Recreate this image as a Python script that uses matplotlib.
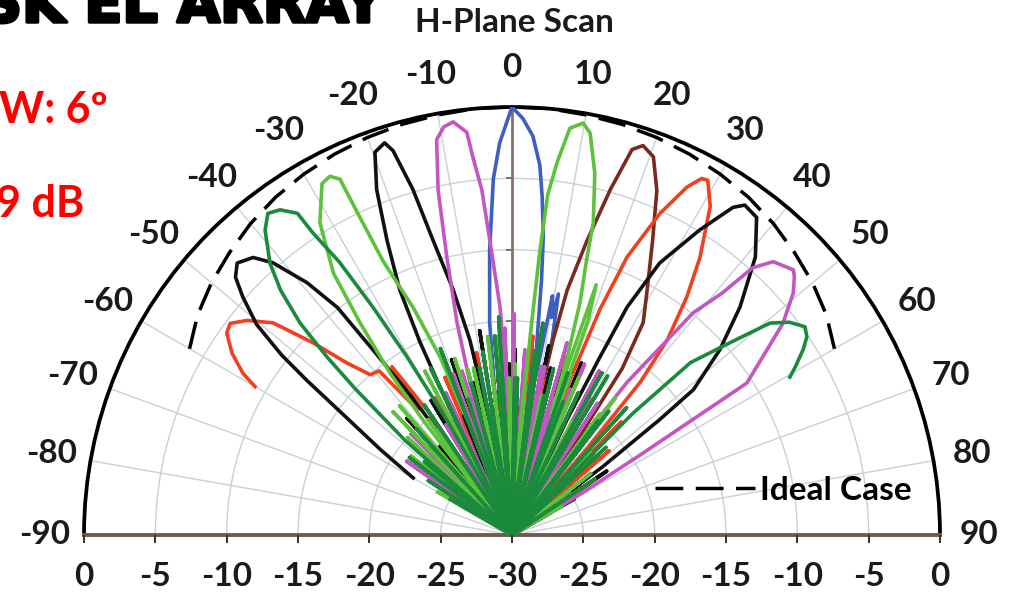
import numpy as np
import matplotlib
matplotlib.use("Agg")
import matplotlib.pyplot as plt
import matplotlib.patheffects as pe

# measured H-plane patterns, one list pair per scan angle (deg, dB)
scan_p00_deg = [-60, -55, -50, -45, -40, -36, -32, -28, -24, -20, -17, -14, -11.5, -9, -7.5,
                -6, -4.5, -3, -1.8, 0, 1.5, 3, 4.3, 5.1, 6, 6.6, 7.5, 8.5, 9.6, 10.3,
                10.9, 11.6, 13, 16, 19, 23, 27, 32, 37, 43, 50, 55, 60]
scan_p00_db = [-30, -26, -30, -24, -30, -23, -30, -22, -30, -20, -30, -26, -19, -30, -22,
               -15, -10, -5, -2.5, 0, -0.8, -2, -4, -6.2, -9, -12, -17, -19, -13, -14.5,
               -12.8, -16, -30, -20, -30, -22, -30, -24, -30, -26, -30, -27, -30]

scan_m08_deg = [-60, -58, -55, -50, -45, -41, -37, -34, -31, -28, -25, -22, -20, -17.5, -15.5,
                -14.5, -13.2, -12.1, -10.8, -9.5, -8.1, -6.4, -5.9, -5, -4.3, -3, -2, -1, 0.5, 2,
                5, 8, 11, 14, 17, 20, 23, 26, 30, 34, 38, 42, 46, 50, 55, 60]
scan_m08_db = [-27, -30, -21, -30, -20, -30, -22, -30, -21, -30, -19, -30, -18, -30, -19,
               -14.6, -10, -5.3, -1.8, -1, -0.75, -1.6, -3.4, -5.7, -9.3, -14, -20, -30, -14.5, -30,
               -20, -30, -18, -30, -20, -30, -17, -30, -19, -30, -21, -30, -23, -30, -25, -30]

scan_p09_deg = [-60, -56, -52, -48, -44, -40, -36, -32, -28, -25, -21, -18, -15, -12, -9,
                -6, -4, -1, 1, 3, 4.5, 5.3, 5.6, 6.0, 6.9, 8.1, 9.8, 11, 12.9, 14.6,
                15.1, 16.3, 17.3, 17.9, 18.6, 19.5, 20.5, 23, 26, 29, 33, 36, 40, 44, 48,
                52, 56, 60]
scan_p09_db = [-24, -30, -21, -30, -18, -30, -20, -30, -17, -30, -19, -30, -18, -30, -20,
               -30, -16, -30, -18, -30, -22, -15, -10, -6, -3.7, -1.2, -0.7, -1.3, -4, -7.4,
               -9.8, -13, -17, -21, -11.5, -14, -26, -18, -30, -20, -30, -19.5, -30, -22, -30,
               -23, -30, -26]

scan_m18_deg = [-60, -57, -54, -50, -46, -42, -39, -36, -33, -30, -27, -26.2, -25.5, -24.6, -23,
                -21.4, -19.7, -18, -17.2, -16, -15, -13.5, -12.2, -11.3, -10.5, -9, -7.5, -5, -2, 1,
                4, 7, 10, 13, 16, 20, 24, 28, 32, 36, 40, 44, 48, 53, 60]
scan_m18_db = [-30, -24, -30, -23, -30, -19, -30, -22, -30, -20, -30, -20, -15, -11.1, -7.6,
               -4, -1.5, -1.1, -1.8, -4.8, -8.6, -12.3, -16, -21, -30, -15.5, -30, -19, -30, -17,
               -30, -21, -30, -18, -30, -19, -30, -17, -30, -20, -30, -22, -30, -24, -30]

scan_p19_deg = [-60, -52, -45, -38, -32, -27, -22, -18, -14, -10, -6, -3, 0, 3, 6,
                8, 10, 11, 11.9, 12.7, 14.3, 15.9, 17.3, 18.6, 20.5, 22.8, 25.5, 28.9, 31.7, 33.5,
                34.5, 35.5, 38, 41, 44, 48, 52, 56, 60]
scan_p19_db = [-30, -27, -30, -26, -30, -25, -30, -24, -30, -23, -30, -22, -30, -21, -30,
               -19, -30, -21, -16, -12.4, -8.7, -4.8, -1.7, -1.2, -1.7, -3.8, -7.1, -10.4, -12.5, -16,
               -22, -30, -22, -30, -24, -30, -25, -30, -27]

scan_m27_deg = [-60, -57, -53, -50, -47, -44, -41, -38.5, -37.8, -37, -35.6, -34.3, -31.6, -28.4, -26.9,
                -25.8, -25.6, -25.2, -23.5, -22, -21, -20, -18, -16, -13, -10, -7, -4, -1, 2,
                5, 8, 12, 16, 20, 24, 28, 32, 37, 42, 46, 52, 56, 60]
scan_m27_db = [-24, -30, -22, -30, -20, -30, -18, -30, -20, -15.8, -11.7, -7.8, -4.3, -2, -1.8,
               -2.3, -5.2, -8.8, -12.6, -16.5, -22, -30, -17, -30, -18, -30, -16, -30, -19, -30,
               -17, -30, -20, -30, -18, -30, -21, -30, -18, -30, -22, -30, -24, -30]

scan_p29_deg = [-60, -55, -50, -45, -40, -35, -31, -27, -23, -19, -15, -12, -9, -6, -3,
                0, 3, 6, 9, 12, 15, 17, 19, 20, 20.6, 21.3, 22.5, 24.7, 26.7, 28,
                28.9, 31.1, 34.1, 36.3, 38.5, 40, 41, 42, 44, 46, 49, 52, 56, 60]
scan_p29_db = [-30, -24, -30, -22, -30, -20, -30, -21, -30, -19, -30, -17, -30, -20, -30,
               -18, -30, -16, -30, -19, -30, -17, -30, -24, -18, -13, -8.9, -5.2, -2.7, -1.7,
               -1.6, -3.1, -6.5, -9.3, -12.5, -16, -22, -30, -19, -30, -21, -30, -22, -27]

scan_m38_deg = [-60, -56, -53, -50, -48.5, -47, -46.1, -45, -43.4, -41.7, -39, -37.2, -35.5, -33.7, -33.4,
                -32.3, -31.4, -30.5, -29.5, -28.5, -26, -24, -21, -18, -15, -12, -9, -6, -3.5, -1,
                2, 5, 8.3, 11, 14, 17, 21, 25, 29, 33, 38, 43, 47, 52, 56, 60]
scan_m38_db = [-25, -30, -21, -30, -20, -15, -12, -9, -6.4, -4.5, -2.5, -1.7, -2, -2.9, -4.6,
               -7.4, -11.3, -15.5, -21, -30, -17, -30, -16, -30, -19, -30, -17, -30, -14.7, -30,
               -19, -30, -15, -30, -18, -30, -20, -30, -17, -30, -19, -30, -21, -30, -23, -30]

scan_p40_deg = [-60, -54, -49, -44, -39, -34, -30, -26, -22, -18, -14, -10, -7, -4, -1,
                2, 5, 8, 11, 14, 17, 20, 22, 24.5, 25.5, 26.3, 26.8, 28.5, 31.6, 34,
                35.2, 37.6, 41.2, 45, 48.3, 51.3, 52, 53, 54, 56, 58, 60]
scan_p40_db = [-26, -30, -23, -30, -22, -30, -20, -30, -21, -30, -19, -30, -20, -30, -18,
               -30, -19, -30, -16.5, -30, -18, -30, -17, -30, -21, -16.1, -12.1, -8.3, -4.9, -2.3,
               -1.7, -1.9, -4.1, -7.4, -10.5, -13.7, -16.9, -22, -30, -22, -30, -25]

scan_m48_deg = [-60, -57, -54.5, -53, -52, -50.5, -48.5, -47, -45.3, -43, -41.3, -39.1, -37.5, -36.9, -36,
                -35, -34, -31, -28, -25, -22, -19, -16, -13, -10, -7, -4, -1, 2, 6,
                10, 14, 18, 23, 28, 33, 38, 44, 50, 55, 60]
scan_m48_db = [-22, -19, -15.5, -12, -9.5, -6.8, -4.8, -3.5, -2.9, -3.4, -4.6, -7.2, -9.9, -13.8, -18,
               -24, -30, -19, -30, -20, -30, -17, -30, -21, -30, -18, -30, -20, -30, -22,
               -30, -19, -30, -21, -30, -23, -30, -24, -30, -26, -30]

scan_p50_deg = [-60, -58, -55, -50, -45, -40, -35, -30, -25, -21, -17, -13, -9, -5, -2,
                1, 4, 7, 10, 13, 16, 19, 22, 25, 28, 31, 33, 35, 36, 37,
                39.2, 41, 42, 43.7, 46.7, 47.6, 49.3, 52, 54, 57.1, 58, 59, 60]
scan_p50_db = [-26, -30, -21, -30, -22, -30, -21, -30, -20, -30, -18, -30, -19, -30, -15.5,
               -30, -17, -30, -18, -30, -16, -30, -19, -30, -17, -30, -19, -30, -22, -16.6,
               -9.9, -7.5, -4.8, -3.5, -2.9, -3.2, -4, -5.9, -7.9, -10.4, -19.2, -24, -27]

scan_m58_deg = [-60, -59, -57, -54.7, -53.1, -51, -48.4, -46, -43.8, -41.5, -39, -37, -35.5, -34, -32,
                -29, -26, -23, -20, -17, -14, -11, -8, -5, -2, 1, 4, 8, 12, 16,
                20, 25, 30, 36, 42, 48, 54, 60]
scan_m58_db = [-9.2, -8, -6.6, -5.5, -5.3, -6.1, -7.6, -10.6, -13.3, -15, -15.2, -19, -15.5, -20, -30,
               -19, -30, -18, -30, -20, -30, -17, -30, -19, -30, -21, -30, -19, -30, -22,
               -30, -20, -30, -23, -30, -24, -30, -27]

scan_p60_deg = [-60, -57, -54, -50, -46, -42, -38, -34, -30, -26, -22, -18, -14, -11, -8,
                -5, -2, 1, 4, 7, 10, 13, 16, 19, 22, 25, 28, 31, 34, 37,
                40, 42, 44, 44.8, 46, 48.6, 50.6, 52.5, 54.6, 56.1, 57.5, 59.3, 60.4]
scan_p60_db = [-30, -23, -30, -22, -30, -20, -30, -19, -30, -17, -30, -20, -30, -18, -30,
               -16, -30, -19, -30, -17, -30, -20, -30, -18, -30, -19, -30, -17, -30, -20,
               -30, -18, -30, -18, -12.6, -9.6, -6.6, -5.5, -4.8, -5.1, -5.8, -6.9, -7.6]

# ideal scan loss envelope
ideal_deg = [-60, -55, -50, -45, -40, -35, -30, -25, -20, -15, -10, -5, 0,
             5, 10, 15, 20, 25, 30, 35, 40, 45, 50, 55, 60]
ideal_db = [-3.9, -3.1, -2.5, -2.0, -1.5, -1.1, -0.8, -0.55, -0.35, -0.2, -0.1, 0, 0,
            0, -0.1, -0.2, -0.35, -0.55, -0.8, -1.1, -1.5, -2.0, -2.5, -3.1, -3.9]

angle_ticks = list(range(-90, 91, 10))
bottom_ticks = [-30, -25, -20, -15, -10, -5, 0]

BLUE = "#3f5fc0"
MAGENTA = "#c256c2"
LGREEN = "#5cc23c"
BLACK = "#111111"
BROWN = "#7a2a1c"
RED = "#f2401f"
DGREEN = "#1b8a3c"

beams = [
    (scan_p00_deg, scan_p00_db, BLUE),
    (scan_p19_deg, scan_p19_db, BROWN),
    (scan_p29_deg, scan_p29_db, RED),
    (scan_m58_deg, scan_m58_db, RED),
    (scan_m18_deg, scan_m18_db, BLACK),
    (scan_p40_deg, scan_p40_db, BLACK),
    (scan_m48_deg, scan_m48_db, BLACK),
    (scan_m08_deg, scan_m08_db, MAGENTA),
    (scan_p50_deg, scan_p50_db, MAGENTA),
    (scan_p09_deg, scan_p09_db, LGREEN),
    (scan_m27_deg, scan_m27_db, LGREEN),
    (scan_m38_deg, scan_m38_db, DGREEN),
    (scan_p60_deg, scan_p60_db, DGREEN),
]

W, H = 1015, 592
fig = plt.figure(figsize=(W / 100, H / 100), dpi=100)
fig.patch.set_facecolor("white")

# half-disc centre (cx, cy) and radius R in pixels; the polar box is square
# and the half wedge sits vertically centred inside it
cx, cy, R = 512, 535, 428
box_top = cy - R - R / 2
ax = fig.add_axes([(cx - R) / W, (H - box_top - 2 * R) / H, 2 * R / W, 2 * R / H],
                  projection="polar")
ax.set_theta_zero_location("N")
ax.set_theta_direction(-1)
ax.set_thetamin(-90)
ax.set_thetamax(90)
ax.set_rlim(-30, 0)

ax.set_xticks(np.deg2rad(angle_ticks))
ax.set_xticklabels([])
ax.set_yticks([-25, -20, -15, -10, -5])
ax.set_yticklabels([])
ax.tick_params(axis="x", direction="out", length=5, width=1.4, color="black")
ax.tick_params(axis="y", length=0)
ax.grid(True, color="#c6d1d9", lw=1.0)

ax.spines["polar"].set_color("black")
ax.spines["polar"].set_linewidth(2.7)
for side in ("start", "end"):
    ax.spines[side].set_color("#6e5a50")
    ax.spines[side].set_linewidth(2.8)

# vertical 0 deg axis with small ticks
ax.plot([0, 0], [-30, 0], color="#85716a", lw=2.0, zorder=2)
ax.plot([0] * 5, [-25, -20, -15, -10, -5], ls="none", marker=0, ms=4,
        mew=1.2, color="#85716a", zorder=2)

for deg, db, col in beams:
    ax.plot(np.deg2rad(deg), db, color=col, lw=2.6, zorder=3, solid_joinstyle="round")

ideal_line, = ax.plot(np.deg2rad(ideal_deg), ideal_db, color="black", lw=2.5,
                      ls=(0, (8, 3.6)), zorder=5)

font = "Lato"
lab_kw = dict(fontsize=24, fontweight="bold", family=font, color="#1a1a1a")

# angle labels around the rim
for a in angle_ticks:
    ax.text(np.deg2rad(a), 2.75, str(a), ha="center", va="center", clip_on=False, **lab_kw)

# dB scale along the baseline, mirrored on both sides
for side in (-90, 90):
    th = np.deg2rad(side)
    ax.plot([th] * len(bottom_ticks), bottom_ticks, ls="none", marker=3, ms=6,
            mew=1.4, color="#333333", clip_on=False, zorder=6)
    for v in bottom_ticks:
        if v == -30 and side == 90:
            continue
        ax.annotate(str(v), xy=(th, v), xytext=(0, -42), textcoords="offset pixels",
                    ha="center", va="center", annotation_clip=False, **lab_kw)

ax.legend([ideal_line], ["Ideal Case"], loc="center left",
          bbox_to_anchor=(655 / W, 1 - 490 / H), bbox_transform=fig.transFigure,
          frameon=False, handlelength=3.0, handletextpad=0.15, borderpad=0,
          borderaxespad=0, prop=dict(family=font, size=24, weight="bold"))

fig.text(514 / W, 1 - 23 / H, "H-Plane Scan", ha="center", va="center",
         fontsize=24, fontweight="bold", family=font, color="#1a1a1a")
fig.text(-18 / W, 1 - 22 / H, "SK EL ARRAY", ha="left", va="baseline",
         fontsize=40, fontweight="bold", family="DejaVu Sans", color="black",
         path_effects=[pe.withStroke(linewidth=2.5, foreground="black")])
fig.text(-1 / W, 1 - 123 / H, "W: 6º", ha="left", va="baseline",
         fontsize=31, fontweight="bold", family=font, color="#ff0000")
fig.text(-4 / W, 1 - 217 / H, "9 dB", ha="left", va="baseline",
         fontsize=31, fontweight="bold", family=font, color="#ff0000")

fig.savefig("out.png", dpi=100, facecolor="white")
